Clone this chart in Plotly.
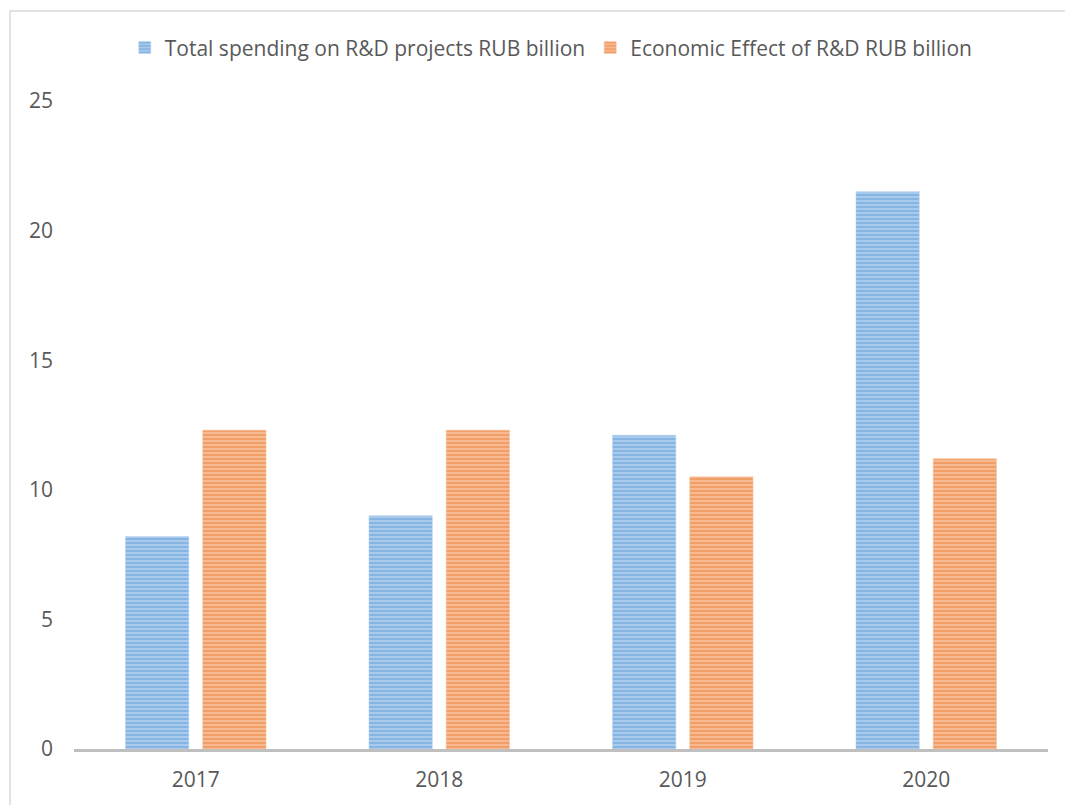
import plotly.graph_objects as go

# Annual R&D figures
years = ["2017", "2018", "2019", "2020"]
spending = [8.2, 9.0, 12.1, 21.5]
effect = [12.3, 12.3, 10.5, 11.2]
y_ticks = [0, 5, 10, 15, 20, 25]

series_names = [
    "Total spending on R&D projects RUB billion",
    "Economic Effect of R&D RUB billion",
]

BLUE, BLUE_LIGHT = "#5B9BD5", "#B0CFEE"
ORANGE, ORANGE_LIGHT = "#ED7D31", "#F7C09C"
TEXT = "#595959"
FONT = "Open Sans"

W, H = 1065, 805
L, R, T, B = 74, 17, 101, 56

fig = go.Figure()
for name, vals, fg, bg in [
    (series_names[0], spending, BLUE, BLUE_LIGHT),
    (series_names[1], effect, ORANGE, ORANGE_LIGHT),
]:
    fig.add_trace(go.Bar(
        x=years, y=vals, name=name,
        marker=dict(
            color=bg,
            line=dict(width=0.5, color=bg),
            pattern=dict(shape="-", fgcolor=fg, bgcolor=bg,
                         size=4, solidity=0.6, fillmode="overlay"),
        ),
    ))

fig.update_layout(
    width=W, height=H,
    margin=dict(l=L, r=R, t=T, b=B, pad=0),
    paper_bgcolor="white", plot_bgcolor="white",
    barmode="group", bargap=0.366, bargroupgap=0.18,
    font=dict(family=FONT, color=TEXT, size=21),
    showlegend=True,
    legend=dict(orientation="h", x=0.49, xanchor="center",
                y=1.082, yanchor="middle",
                font=dict(family=FONT, size=21, color=TEXT),
                itemwidth=30, traceorder="normal"),
)
fig.update_xaxes(showline=True, linecolor="#BFBFBF", linewidth=3,
                 showgrid=False, ticks="", ticklabelstandoff=10,
                 tickfont=dict(size=21, color=TEXT))
fig.update_yaxes(range=[0, 25], tickvals=y_ticks, showgrid=False,
                 zeroline=False, showline=False, ticks="",
                 ticklabelstandoff=20,
                 tickfont=dict(size=21, color=TEXT))

# Chart-area frame (light grey), left and top edges
pw, ph = W - L - R, H - T - B
x_left = (10 - L) / pw
y_top = (H - B - 11) / ph
fig.add_shape(type="line", xref="paper", yref="paper",
              x0=x_left, x1=x_left, y0=y_top, y1=-0.2,
              line=dict(color="#D9D9D9", width=1.5))
fig.add_shape(type="line", xref="paper", yref="paper",
              x0=x_left, x1=1.1, y0=y_top, y1=y_top,
              line=dict(color="#D9D9D9", width=1.5))

fig.write_html("out.html")
